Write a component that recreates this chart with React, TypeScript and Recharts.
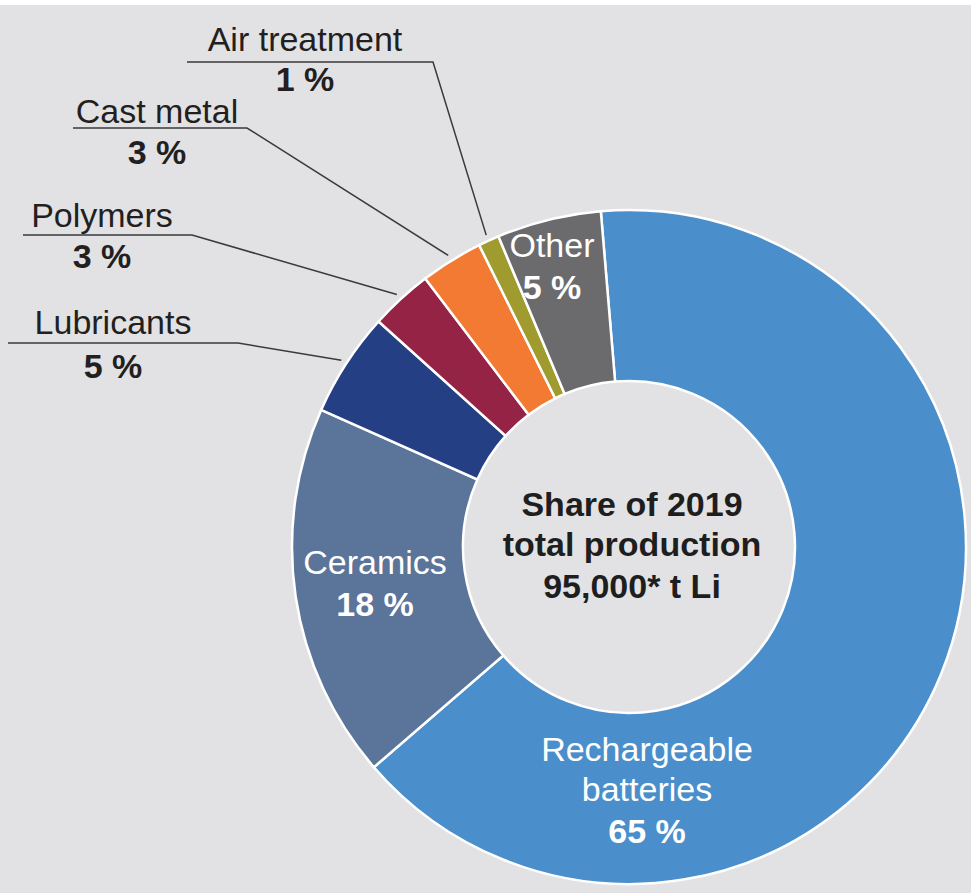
import React from 'react';
import { PieChart, Pie, Cell } from 'recharts';

// Lithium end-use shares, 2019 (%), clockwise from the top
const categories = ['Rechargeable batteries', 'Ceramics', 'Lubricants', 'Polymers', 'Cast metal', 'Air treatment', 'Other'];
const shares = [65, 18, 5, 3, 3, 1, 5];
const labelLines = [['Rechargeable', 'batteries'], ['Ceramics'], ['Lubricants'], ['Polymers'], ['Cast metal'], ['Air treatment'], ['Other']];
const centerLines = ['Share of 2019', 'total production', '95,000* t Li'];

const COLORS = ['#4A8FCB', '#5B7499', '#253F85', '#952345', '#F27A32', '#A09B2F', '#6B6B6D'];

const W = 971;
const H = 893;
const BG = '#E2E2E4';
const FONT = '"Liberation Sans", Arial, sans-serif';
const RADIAN = Math.PI / 180;

// label placement: inside labels sit in the ring, outside ones get an underline + leader
type Placement =
  | { kind: 'inside'; x: number; y: number }
  | { kind: 'outside'; x: number; y: number; pctY: number; lineY: number; x0: number; x1: number };

const placements: Placement[] = [
  { kind: 'inside', x: 647, y: 761 },
  { kind: 'inside', x: 375, y: 574 },
  { kind: 'outside', x: 113, y: 334, pctY: 378, lineY: 343, x0: 8, x1: 238 },
  { kind: 'outside', x: 102, y: 227, pctY: 268, lineY: 235, x0: 23, x1: 192 },
  { kind: 'outside', x: 157, y: 123, pctY: 164, lineY: 128, x0: 73, x1: 247 },
  { kind: 'outside', x: 305, y: 51, pctY: 91, lineY: 62, x0: 187, x1: 433 },
  { kind: 'inside', x: 552, y: 257 },
];

const data = categories.map((name, i) => ({ name, value: shares[i] }));

// title in the hole, baselines relative to the pie centre
const CenterText = ({ cx, cy }: { cx: number; cy: number }) => {
  const offsets = [-31, 9, 51];
  return (
    <g>
      {centerLines.map((t, i) => (
        <text key={i} x={cx + 3} y={cy + offsets[i]} textAnchor="middle" fill="#1E1E1E" fontSize={34} fontWeight="bold" fontFamily={FONT}>
          {t}
        </text>
      ))}
    </g>
  );
};

const renderLabel = (props: any) => {
  const { cx, cy, midAngle, outerRadius, index } = props;
  const p = placements[index];
  const lines = labelLines[index];
  const pct = `${shares[index]} %`;

  if (p.kind === 'inside') {
    return (
      <g>
        {index === 0 && <CenterText cx={cx} cy={cy} />}
        {lines.map((t, i) => (
          <text key={i} x={p.x} y={p.y + i * 40} textAnchor="middle" fill="#fff" fontSize={34} fontFamily={FONT}>
            {t}
          </text>
        ))}
        <text x={p.x} y={p.y + (lines.length - 1) * 40 + 42} textAnchor="middle" fill="#fff" fontSize={34} fontWeight="bold" fontFamily={FONT}>
          {pct}
        </text>
      </g>
    );
  }

  const r = outerRadius + 6;
  const ex = cx + r * Math.cos(-midAngle * RADIAN);
  const ey = cy + r * Math.sin(-midAngle * RADIAN);
  return (
    <g>
      <path d={`M${p.x0},${p.lineY} H${p.x1} L${ex},${ey}`} stroke="#3a3a3a" strokeWidth={1.5} fill="none" />
      <text x={p.x} y={p.y} textAnchor="middle" fill="#231F20" fontSize={34} fontFamily={FONT}>
        {lines[0]}
      </text>
      <text x={p.x} y={p.pctY} textAnchor="middle" fill="#231F20" fontSize={34} fontWeight="bold" fontFamily={FONT}>
        {pct}
      </text>
    </g>
  );
};

export default function App() {
  return (
    <div style={{ position: 'absolute', left: 0, top: 0, width: W, height: H, background: '#fff' }}>
      <div style={{ position: 'absolute', left: 0, top: 5, width: W, height: H - 5, background: BG }} />
      <div style={{ position: 'absolute', left: 0, top: 0 }}>
        <PieChart width={W} height={H}>
          <Pie
            data={data}
            dataKey="value"
            nameKey="name"
            cx={624}
            cy={542}
            innerRadius={166}
            outerRadius={337}
            startAngle={94.8}
            endAngle={94.8 - 360}
            stroke="#fff"
            strokeWidth={2.5}
            label={renderLabel}
            labelLine={false}
            isAnimationActive={false}
          >
            {data.map((entry, index) => (
              <Cell key={`cell-${index}`} fill={COLORS[index]} />
            ))}
          </Pie>
        </PieChart>
      </div>
    </div>
  );
}
